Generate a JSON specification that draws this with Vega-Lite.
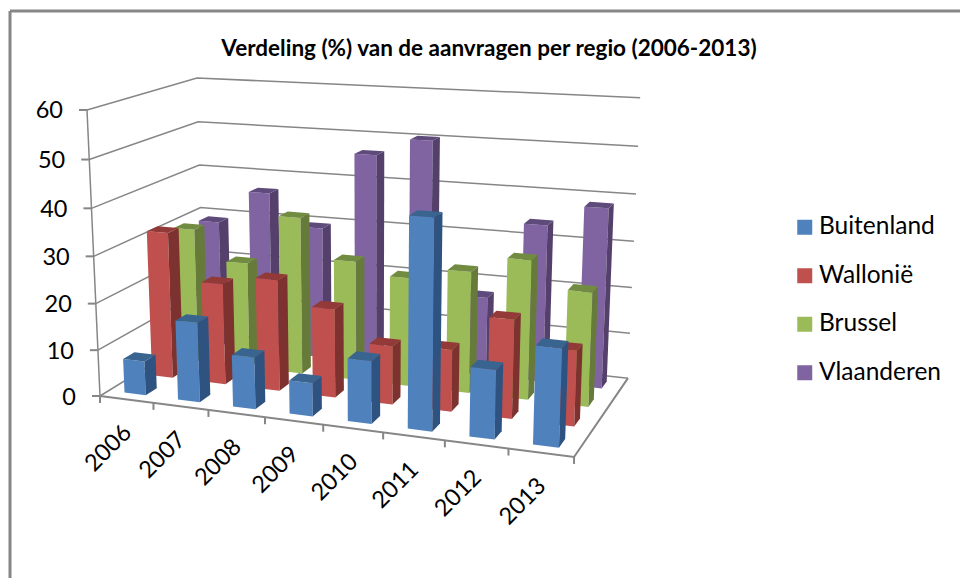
{
"$schema":"https://vega.github.io/schema/vega-lite/v6.json",
"width":960,"height":578,"padding":0,"autosize":{"type":"none"},"background":"white",
"config":{"view":{"stroke":null}},
"title":{"text":"Verdeling (%) van de aanvragen per regio (2006-2013)","font":"Lato","fontSize":22.5,"fontWeight":"bold","color":"#000000","anchor":"middle","frame":"group","offset":-60,"dx":9},
"datasets":{
"bars":[
{"year":2006,"series":"Buitenland","value":7.4},{"year":2007,"series":"Buitenland","value":17},{"year":2008,"series":"Buitenland","value":11},{"year":2009,"series":"Buitenland","value":7},{"year":2010,"series":"Buitenland","value":13},{"year":2011,"series":"Buitenland","value":42.6},{"year":2012,"series":"Buitenland","value":14},{"year":2013,"series":"Buitenland","value":19.6},
{"year":2006,"series":"Wallonië","value":32},{"year":2007,"series":"Wallonië","value":22},{"year":2008,"series":"Wallonië","value":24},{"year":2009,"series":"Wallonië","value":19},{"year":2010,"series":"Wallonië","value":12.4},{"year":2011,"series":"Wallonië","value":13},{"year":2012,"series":"Wallonië","value":20.5},{"year":2013,"series":"Wallonië","value":15.5},
{"year":2006,"series":"Brussel","value":30},{"year":2007,"series":"Brussel","value":23.5},{"year":2008,"series":"Brussel","value":34.5},{"year":2009,"series":"Brussel","value":26},{"year":2010,"series":"Brussel","value":23.5},{"year":2011,"series":"Brussel","value":26},{"year":2012,"series":"Brussel","value":29.5},{"year":2013,"series":"Brussel","value":24},
{"year":2006,"series":"Vlaanderen","value":29},{"year":2007,"series":"Vlaanderen","value":36.5},{"year":2008,"series":"Vlaanderen","value":29.5},{"year":2009,"series":"Vlaanderen","value":46.5},{"year":2010,"series":"Vlaanderen","value":50.3},{"year":2011,"series":"Vlaanderen","value":17.3},{"year":2012,"series":"Vlaanderen","value":34},{"year":2013,"series":"Vlaanderen","value":38.5}
],
"levels":[{"level":0},{"level":10},{"level":20},{"level":30},{"level":40},{"level":50},{"level":60}],
"floor":[{"level":0}],
"years":[{"year":2006},{"year":2007},{"year":2008},{"year":2009},{"year":2010},{"year":2011},{"year":2012},{"year":2013},{"year":2014}]
},
"layer":[
{"data":{"values":[{"frame":"left"}]},"mark":{"type":"rule","color":"#868686","strokeWidth":3},"encoding":{"x":{"datum":10,"type":"quantitative","scale":{"domain":[0,960],"range":[0,960],"nice":false},"axis":null},"y":{"datum":11,"type":"quantitative","scale":{"domain":[0,578],"range":[0,578],"nice":false},"axis":null},"y2":{"datum":578}}},
{"data":{"values":[{"frame":"top"}]},"mark":{"type":"rule","color":"#868686","strokeWidth":3},"encoding":{"x":{"datum":10,"type":"quantitative","scale":{"domain":[0,960],"range":[0,960],"nice":false},"axis":null},"x2":{"datum":960},"y":{"datum":11,"type":"quantitative","scale":{"domain":[0,578],"range":[0,578],"nice":false},"axis":null}}},
{"data":{"name":"levels"},
"transform":[{"calculate":"[0,1,2]","as":"pt"},{"flatten":["pt"]},
{"calculate":"datum.pt==2?1:0","as":"u"},{"calculate":"datum.pt==0?0:1","as":"d"},{"calculate":"datum.level/60","as":"h"},
{"calculate":"1-0.11*datum.u+0.132*datum.d-0.046*datum.h","as":"w"},
{"calculate":"(100+410.9*datum.u+130.9*datum.d-17*datum.h)/datum.w","as":"px"},
{"calculate":"(396+10.7*datum.u-20.2*datum.d-291.1*datum.h)/datum.w","as":"py"}],
"mark":{"type":"line","color":"#868686","strokeWidth":1.5},
"encoding":{"x":{"field":"px","type":"quantitative","scale":{"domain":[0,960],"range":[0,960],"nice":false},"axis":null},"y":{"field":"py","type":"quantitative","scale":{"domain":[0,578],"range":[0,578],"nice":false},"axis":null},"detail":{"field":"level"},"order":{"field":"pt"}}},
{"data":{"name":"floor"},
"transform":[{"calculate":"[0,1,2]","as":"pt"},{"flatten":["pt"]},
{"calculate":"datum.pt>0?1:0","as":"u"},{"calculate":"datum.pt==2?1:0","as":"d"},
{"calculate":"1-0.11*datum.u+0.132*datum.d","as":"w"},
{"calculate":"(100+410.9*datum.u+130.9*datum.d)/datum.w","as":"px"},
{"calculate":"(396+10.7*datum.u-20.2*datum.d)/datum.w","as":"py"}],
"mark":{"type":"line","color":"#868686","strokeWidth":2},
"encoding":{"x":{"field":"px","type":"quantitative","scale":{"domain":[0,960],"range":[0,960],"nice":false},"axis":null},"y":{"field":"py","type":"quantitative","scale":{"domain":[0,578],"range":[0,578],"nice":false},"axis":null},"order":{"field":"pt"}}},
{"data":{"name":"levels"},
"transform":[{"calculate":"datum.level/60","as":"h"},{"calculate":"1-0.046*datum.h","as":"w"},
{"calculate":"(100-17*datum.h)/datum.w","as":"px"},{"calculate":"(396-291.1*datum.h)/datum.w","as":"py"},{"calculate":"datum.px-8","as":"tx"},{"calculate":"datum.px-24","as":"lx"}],
"encoding":{"y":{"field":"py","type":"quantitative","scale":{"domain":[0,578],"range":[0,578],"nice":false},"axis":null}},
"layer":[
{"mark":{"type":"line","color":"#868686","strokeWidth":1.5},"encoding":{"x":{"field":"px","type":"quantitative","scale":{"domain":[0,960],"range":[0,960],"nice":false},"axis":null},"order":{"field":"level"}}},
{"mark":{"type":"rule","color":"#868686","strokeWidth":2},"encoding":{"x":{"field":"px","type":"quantitative","scale":{"domain":[0,960],"range":[0,960],"nice":false},"axis":null},"x2":{"field":"tx"}}},
{"mark":{"type":"text","font":"Lato","fontSize":23.5,"align":"right","baseline":"middle","dy":1.5,"color":"#000000"},"encoding":{"x":{"field":"lx","type":"quantitative","scale":{"domain":[0,960],"range":[0,960],"nice":false},"axis":null},"text":{"field":"level"}}}
]},
{"data":{"name":"years"},
"transform":[{"calculate":"(datum.year-2006)/8","as":"u"},{"calculate":"1-0.11*datum.u","as":"w"},
{"calculate":"(100+410.9*datum.u)/datum.w","as":"px"},{"calculate":"(396+10.7*datum.u)/datum.w","as":"py"},{"calculate":"datum.py+7","as":"ty"}],
"mark":{"type":"rule","color":"#868686","strokeWidth":2},
"encoding":{"x":{"field":"px","type":"quantitative","scale":{"domain":[0,960],"range":[0,960],"nice":false},"axis":null},"y":{"field":"py","type":"quantitative","scale":{"domain":[0,578],"range":[0,578],"nice":false},"axis":null},"y2":{"field":"ty"}}},
{"data":{"name":"years"},
"transform":[{"filter":"datum.year<2014"},{"calculate":"(datum.year-2006+0.5)/8","as":"u"},{"calculate":"1-0.11*datum.u","as":"w"},
{"calculate":"(100+410.9*datum.u)/datum.w-18","as":"px"},{"calculate":"(396+10.7*datum.u)/datum.w+49","as":"py"},{"calculate":"''+datum.year","as":"label"}],
"mark":{"type":"text","font":"Lato","fontSize":23.5,"angle":315,"align":"center","baseline":"middle","color":"#000000"},
"encoding":{"x":{"field":"px","type":"quantitative","scale":{"domain":[0,960],"range":[0,960],"nice":false},"axis":null},"y":{"field":"py","type":"quantitative","scale":{"domain":[0,578],"range":[0,578],"nice":false},"axis":null},"text":{"field":"label"}}},
{"data":{"name":"bars"},
"transform":[
{"calculate":"datum.year-2006","as":"yi"},
{"calculate":"indexof(['Buitenland','Wallonië','Brussel','Vlaanderen'],datum.series)","as":"si"},
{"calculate":"['front','side','top']","as":"face"},{"flatten":["face"]},
{"calculate":"[0,1,2,3]","as":"corner"},{"flatten":["corner"]},
{"calculate":"(datum.yi+((datum.face=='side'||datum.corner==1||datum.corner==2)?0.7:0.3))/8","as":"u"},
{"calculate":"(datum.si+((datum.face=='side'&&(datum.corner==1||datum.corner==2))||(datum.face=='top'&&datum.corner>=2)?0.7:0.3))/4","as":"d"},
{"calculate":"(datum.face=='top'||datum.corner>=2)?datum.value/60:0","as":"h"},
{"calculate":"1-0.11*datum.u+0.132*datum.d-0.046*datum.h","as":"w"},
{"calculate":"(100+410.9*datum.u+130.9*datum.d-17*datum.h)/datum.w","as":"px"},
{"calculate":"(396+10.7*datum.u-20.2*datum.d-291.1*datum.h)/datum.w","as":"py"},
{"calculate":"datum.series+'|'+datum.face","as":"shade"},
{"calculate":"datum.year+'|'+datum.face","as":"poly"}
],
"encoding":{
"x":{"field":"px","type":"quantitative","scale":{"domain":[0,960],"range":[0,960],"nice":false},"axis":null},
"y":{"field":"py","type":"quantitative","scale":{"domain":[0,578],"range":[0,578],"nice":false},"axis":null},
"detail":{"field":"poly"},
"order":{"field":"corner"},
"fill":{"field":"shade","type":"nominal",
"scale":{"domain":["Buitenland|front","Wallonië|front","Brussel|front","Vlaanderen|front","Buitenland|side","Buitenland|top","Wallonië|side","Wallonië|top","Brussel|side","Brussel|top","Vlaanderen|side","Vlaanderen|top"],
"range":["#4F81BD","#C0504D","#9BBB59","#8064A2","#2F5380","#38648F","#7E322F","#933A38","#667B3A","#718C40","#54406B","#5F4A7C"]},
"legend":{"title":null,"orient":"none","legendX":792.5,"legendY":215,"values":["Buitenland|front","Wallonië|front","Brussel|front","Vlaanderen|front"],"labelExpr":"split(datum.label,'|')[0]","symbolType":"square","symbolSize":225,"symbolStrokeWidth":0,"labelFont":"Lato","labelFontSize":24.5,"labelColor":"#000000","rowPadding":23.5,"labelOffset":2}}
},
"layer":[
{"transform":[{"filter":"datum.series=='Vlaanderen'"}],"mark":{"type":"line","filled":true,"strokeWidth":0}},
{"transform":[{"filter":"datum.series=='Brussel'"}],"mark":{"type":"line","filled":true,"strokeWidth":0}},
{"transform":[{"filter":"datum.series=='Wallonië'"}],"mark":{"type":"line","filled":true,"strokeWidth":0}},
{"transform":[{"filter":"datum.series=='Buitenland'"}],"mark":{"type":"line","filled":true,"strokeWidth":0}}
]}
]
}
